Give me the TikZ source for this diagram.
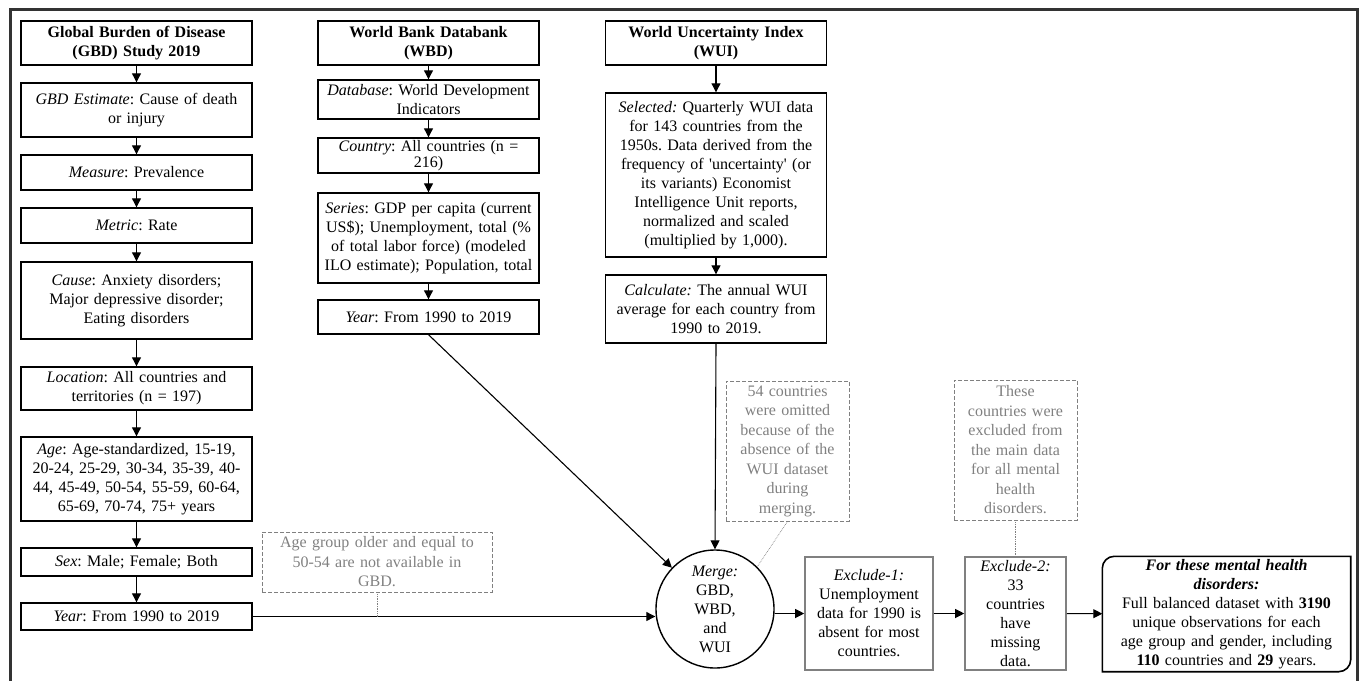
\documentclass[tikz,border=0pt]{standalone}
\usepackage{fontspec}
\setmainfont{Liberation Serif}
\usetikzlibrary{arrows.meta}
\frenchspacing

\begin{document}
\begin{tikzpicture}[x=1pt,y=-1pt,
    box/.style={draw, line width=1.4pt, align=center, inner xsep=3pt, inner ysep=1pt, font=\fontsize{16}{19}\selectfont},
    gbdbox/.style={box, text width=225pt},
    colbox/.style={box, text width=215pt},
    exbox/.style={box, draw=gray, line width=1.6pt},
    note/.style={draw=gray, line width=0.8pt, dash pattern=on 4pt off 2pt, text=gray, align=center, inner xsep=2pt, inner ysep=1pt, font=\fontsize{16}{19.5}\selectfont},
    arr/.style={-{Triangle[length=9pt,width=9pt]}, line width=1.1pt},
    link/.style={gray, line width=0.7pt, densely dotted}]

    \useasboundingbox (0,0) rectangle (1362,680);
    \draw[line width=2.5pt, black!80] (10.5,9.5) rectangle (1357.5,690);

    % GBD column
    \node[gbdbox, minimum height=44pt] (gbd) at (136.5,43) {\textbf{Global Burden of Disease}\\\textbf{(GBD) Study 2019}};
    \node[gbdbox, minimum height=54pt] (gest) at (136.5,110) {\textit{GBD Estimate}: Cause of death\\or injury};
    \node[gbdbox, minimum height=35pt] (meas) at (136.5,172.5) {\textit{Measure}: Prevalence};
    \node[gbdbox, minimum height=35pt] (metric) at (136.5,225.5) {\textit{Metric}: Rate};
    \node[gbdbox, minimum height=77pt] (cause) at (136.5,300.5) {\textit{Cause}: Anxiety disorders;\\Major depressive disorder;\\Eating disorders};
    \node[gbdbox, minimum height=43pt] (loc) at (136.5,388.5) {\textit{Location}: All countries and\\territories (n = 197)};
    \node[gbdbox, minimum height=84pt] (age) at (136.5,479) {\textit{Age}: Age-standardized, 15-19,\\20-24, 25-29, 30-34, 35-39, 40-\\44, 45-49, 50-54, 55-59, 60-64,\\65-69, 70-74, 75+ years};
    \node[gbdbox, minimum height=28pt] (sex) at (136.5,562) {\textit{Sex}: Male; Female; Both};
    \node[gbdbox, minimum height=27pt] (gyear) at (136.5,616.5) {\textit{Year}: From 1990 to 2019};

    % WBD column
    \node[colbox, minimum height=44pt] (wbd) at (428.5,43) {\textbf{World Bank Databank}\\\textbf{(WBD)}};
    \node[colbox, minimum height=39pt] (db) at (428.5,99.5) {\textit{Database}: World Development\\Indicators};
    \node[colbox, minimum height=35pt, font=\fontsize{16}{12.5}\selectfont] (ctry) at (428.5,155.5) {\textit{Country}: All countries (n =\\216)};
    \node[colbox, minimum height=90pt] (series) at (428.5,238) {\textit{Series}: GDP per capita (current\\US\$); Unemployment, total (\%\\of total labor force) (modeled\\ILO estimate); Population, total};
    \node[colbox, minimum height=34pt] (wyear) at (428.5,317) {\textit{Year}: From 1990 to 2019};

    % WUI column
    \node[colbox, minimum height=44pt] (wui) at (716,43) {\textbf{World Uncertainty Index}\\\textbf{(WUI)}};
    \node[colbox, minimum height=164pt] (sel) at (716,175) {\textit{Selected:} Quarterly WUI data\\for 143 countries from the\\1950s. Data derived from the\\frequency of \textquotesingle uncertainty\textquotesingle{} (or\\its variants) Economist\\Intelligence Unit reports,\\normalized and scaled\\(multiplied by 1,000).};
    \node[colbox, minimum height=68pt] (calc) at (716,309) {\textit{Calculate:} The annual WUI\\average for each country from\\1990 to 2019.};

    % merging and exclusions
    \node[draw, circle, line width=1.4pt, minimum size=118pt, inner sep=0pt, align=center, font=\fontsize{16}{19}\selectfont] (merge) at (715,609) {\textit{Merge:}\\GBD,\\WBD,\\and\\WUI};
    \node[exbox, text width=122pt, minimum height=113pt] (ex1) at (869,613.5) {\textit{Exclude-1:}\\Unemployment\\data for 1990 is\\absent for most\\countries.};
    \node[exbox, text width=95pt, minimum height=113pt] (ex2) at (1015.5,613.5) {\textit{Exclude-2:}\\33\\countries\\have\\missing\\data.};
    \node[box, draw=none, text width=241pt, minimum height=114pt] (fin) at (1226.5,614) {\textbf{\textit{For these mental health}}\\\textbf{\textit{disorders:}}\\Full balanced dataset with \textbf{3190}\\unique observations for each\\age group and gender, including\\\textbf{110} countries and \textbf{29} years.};
    \draw[line width=1.6pt] ([yshift=-12pt]fin.north west) arc[start angle=180, end angle=90, radius=12pt] -- (fin.north east) -- ([yshift=12pt]fin.south east) arc[start angle=0, end angle=-90, radius=12pt] -- (fin.south west) -- cycle;

    % notes
    \node[note, text width=226pt, minimum height=60pt] (agenote) at (377,562) {Age group older and equal to\\50-54 are not available in\\GBD.};
    \node[note, text width=119pt, minimum height=140pt] (mergenote) at (787.5,451) {54 countries\\were omitted\\because of the\\absence of the\\WUI dataset\\during\\merging.};
    \node[note, text width=119pt, minimum height=140pt] (exnote) at (1015.5,450) {These\\countries were\\excluded from\\the main data\\for all mental\\health\\disorders.};

    % arrows
    \draw[arr] (gbd) -- (gest);
    \draw[arr] (gest) -- (meas);
    \draw[arr] (meas) -- (metric);
    \draw[arr] (metric) -- (cause);
    \draw[arr] (cause) -- (loc);
    \draw[arr] (loc) -- (age);
    \draw[arr] (age) -- (sex);
    \draw[arr] (sex) -- (gyear);
    \draw[arr] (wbd) -- (db);
    \draw[arr] (db) -- (ctry);
    \draw[arr] (ctry) -- (series);
    \draw[arr] (series) -- (wyear);
    \draw[arr] (wui) -- (sel);
    \draw[arr] (sel) -- (calc);
    \draw[arr] (gyear.east) -- (gyear.east -| merge.west);
    \draw[arr] (wyear.south) -- (merge);
    \draw[arr] (calc.south) -- (merge.north);
    \draw[arr] (merge.east |- ex1.west) -- (ex1.west);
    \draw[arr] (ex1) -- (ex2);
    \draw[arr] (ex2) -- (fin);

    % note links
    \coordinate (agehit) at (agenote.south |- gyear.east);
    \draw[link] (agenote.south) -- (agehit);
    \draw[link] (mergenote.south) -- (merge.45);
    \draw[link] (exnote.south) -- (ex2.north);
\end{tikzpicture}
\end{document}
